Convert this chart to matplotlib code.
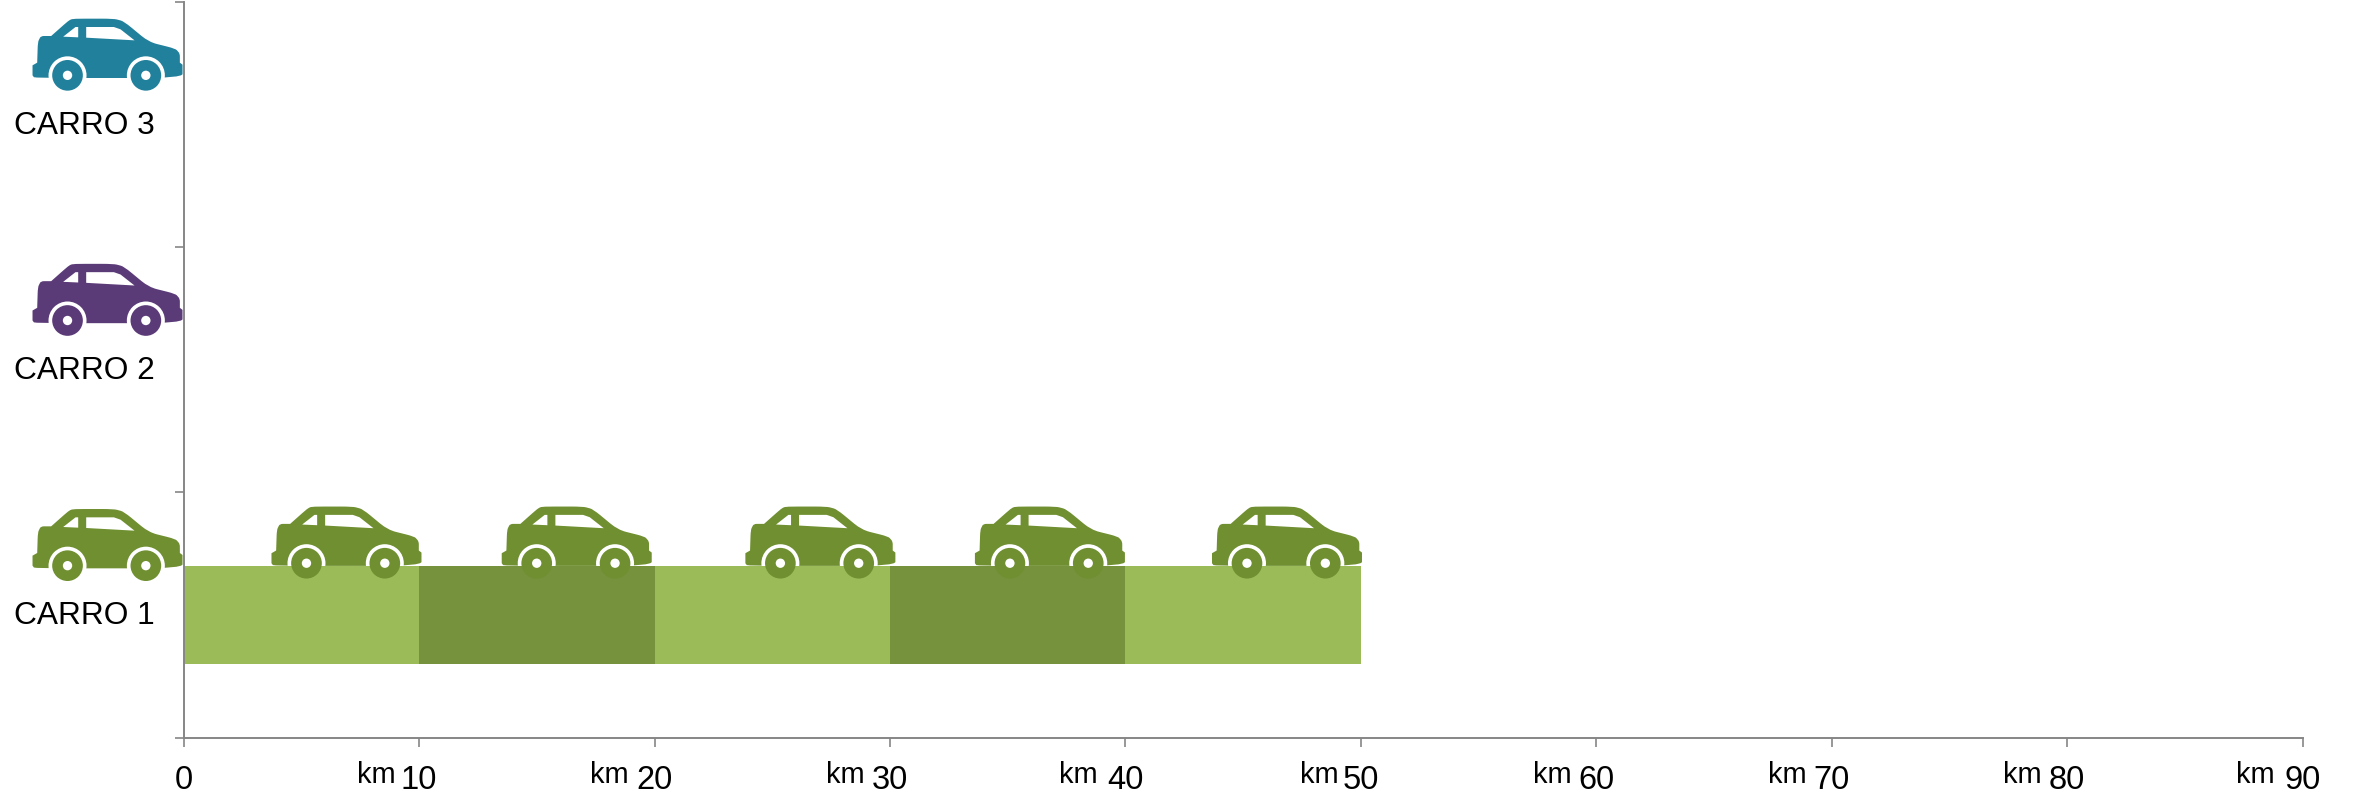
import matplotlib
matplotlib.use("Agg")
import matplotlib.pyplot as plt
from matplotlib.patches import PathPatch, Circle
from matplotlib.path import Path
from matplotlib.transforms import Affine2D

plt.rcParams['font.family'] = ['Liberation Sans', 'DejaVu Sans']

car_names = ["CARRO 1", "CARRO 2", "CARRO 3"]
segments_km = [10, 10, 10, 10, 10]
segment_colors = ["#9BBB59", "#76923C", "#9BBB59", "#76923C", "#9BBB59"]
km_ticks = [0, 10, 20, 30, 40, 50, 60, 70, 80, 90]
road_car_ends = [10.1, 19.88, 30.23, 39.98, 50.05]
start_car_colors = ["#6F8F30", "#5B3A78", "#21819C"]
road_car_color = "#6F8F30"

# offset of the "km" word left of each tick, in pixels
km_word_offset = [43, 45, 45, 47, 41, 44, 44, 45, 47]

W, H = 2356, 800
LEFT, RIGHT, TOP, BOTTOM = 183.7, 2302.5, 2, 737.5

fig = plt.figure(figsize=(W / 100, H / 100), dpi=100)
ax = fig.add_axes([LEFT / W, 1 - BOTTOM / H, (RIGHT - LEFT) / W, (BOTTOM - TOP) / H])

left = 0
for value, color in zip(segments_km, segment_colors):
    ax.barh(0, value, left=left, height=0.4, color=color, linewidth=0, zorder=2)
    left += value

ax.set_xlim(0, 90)
ax.set_ylim(-0.5, 2.5)

km_per_px = 90 / (RIGHT - LEFT)
cat_per_px = 3 / (BOTTOM - TOP)

# car outline in its own little grid, origin at the bottom right of the body
# (x, y, round) - round=1 means the corner gets a curve
body = [(-444, 0, 1), (-450, -8, 0), (-450, -38, 0), (-436, -46, 0), (-434, -108, 1), (-425, -126, 1),
        (-394, -126, 0), (-341, -173, 1), (-328, -178, 1), (-206, -178, 1), (-176, -170, 1),
        (-101, -108, 1), (-21, -88, 1), (-8, -73, 1), (-8, -46, 0), (0, -40, 0), (0, 0, 1)]
win_front = [(-358, -124), (-321, -153), (-313, -153), (-313, -122)]
win_back = [(-289, -153), (-206, -153), (-186, -146), (-144, -113), (-289, -121)]
wheel_x = [-345, -110]


def rounded_path(points):
    verts, codes = [], []
    n = len(points)
    for i in range(n):
        x, y, r = points[i]
        px, py, _ = points[i - 1]
        nx, ny, _ = points[(i + 1) % n]
        if r:
            verts += [(x + (px - x) * 0.3, y + (py - y) * 0.3), (x, y), (x + (nx - x) * 0.3, y + (ny - y) * 0.3)]
            codes += [Path.LINETO, Path.CURVE3, Path.CURVE3]
        else:
            verts.append((x, y))
            codes.append(Path.LINETO)
    codes[0] = Path.MOVETO
    verts.append(verts[0])
    codes.append(Path.CLOSEPOLY)
    return Path(verts, codes)


body_path = rounded_path(body)


def draw_car(end_km, y, color):
    tr = Affine2D().scale(km_per_px / 3, -cat_per_px / 3).translate(end_km, y) + ax.transData
    ax.add_patch(PathPatch(body_path, facecolor=color, edgecolor="none", transform=tr,
                           clip_on=False, zorder=1))
    for win in [win_front, win_back]:
        ax.add_patch(PathPatch(Path(win + [win[0]], closed=True), facecolor="white", edgecolor="none",
                               transform=tr, clip_on=False, zorder=1.1))
    for wx in wheel_x:
        ax.add_patch(Circle((wx, -8), 57, facecolor="white", edgecolor="none", transform=tr,
                            clip_on=False, zorder=1.2))
        ax.add_patch(Circle((wx, -8), 46, facecolor=color, edgecolor="none", transform=tr,
                            clip_on=False, zorder=3))
        ax.add_patch(Circle((wx, -8), 14, facecolor="white", edgecolor="none", transform=tr,
                            clip_on=False, zorder=3.1))


for i, color in enumerate(start_car_colors):
    draw_car(-0.05, i + 0.19, color)
for end in road_car_ends:
    draw_car(end, 0.2, road_car_color)

for side in ["top", "right"]:
    ax.spines[side].set_visible(False)
for side in ["left", "bottom"]:
    ax.spines[side].set_color("#868686")
    ax.spines[side].set_linewidth(1.4)

ax.set_yticks([-0.5, 0.5, 1.5, 2.5])
ax.set_yticklabels([])
ax.set_xticks(km_ticks)
ax.set_xticklabels([str(k) for k in km_ticks], fontsize=23.5)
ax.tick_params(axis="both", length=6.5, width=1.2, color="#868686")
ax.tick_params(axis="x", pad=13)

for i, name in enumerate(car_names):
    ax.text((14 - LEFT) / (RIGHT - LEFT), i - 0.006, name, fontsize=22.8, va="center", ha="left",
            transform=ax.get_yaxis_transform())

for k, offset in zip(km_ticks[1:], km_word_offset):
    ax.annotate("km", xy=(k, 0), xycoords=ax.get_xaxis_transform(), xytext=(-offset * 0.72, -33),
                textcoords="offset points", fontsize=21, ha="center", va="baseline")

fig.savefig("out.png", dpi=100)
